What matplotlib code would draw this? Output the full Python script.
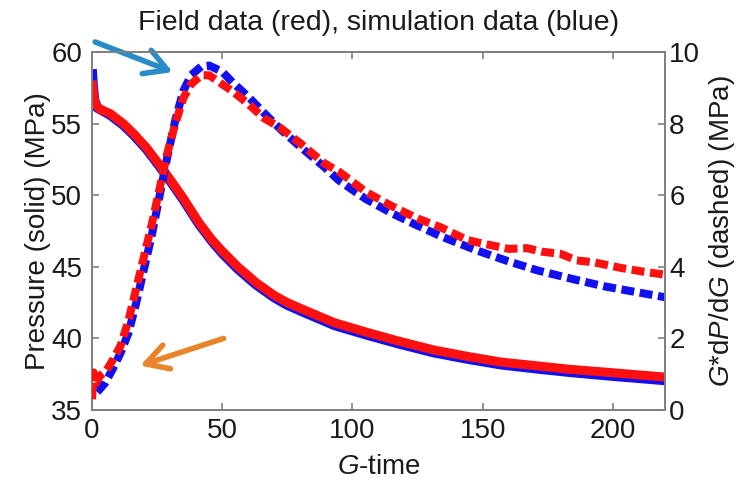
import matplotlib
matplotlib.use("Agg")
import matplotlib.pyplot as plt

plt.rcParams['font.family'] = ['Liberation Sans', 'DejaVu Sans']
plt.rcParams['mathtext.fontset'] = 'custom'
plt.rcParams['mathtext.rm'] = 'Liberation Sans'
plt.rcParams['mathtext.it'] = 'Liberation Sans:italic'

# pressure, field (red solid)
t_p_field = [0, 0.5, 1.2, 3, 7, 12, 16, 21, 26, 30, 35, 41, 46, 50, 56, 63, 70, 75, 80,
             93, 106, 118, 131, 144, 157, 170, 183, 200, 220]
p_field = [58.0, 57.2, 56.4, 56.0, 55.7, 55.0, 54.3, 53.3, 52.1, 51.1, 49.8, 48.1, 46.9,
           46.1, 45.0, 43.9, 43.0, 42.5, 42.1, 41.1, 40.4, 39.8, 39.2, 38.75, 38.35,
           38.1, 37.85, 37.6, 37.3]
# pressure, simulation (blue solid)
t_p_sim = [0, 0.4, 1.0, 2, 7, 12, 16, 21, 26, 30, 35, 41, 46, 50, 56, 63, 70, 75, 80,
           93, 106, 118, 131, 144, 157, 170, 183, 200, 220]
p_sim = [58.8, 57.6, 56.6, 56.1, 55.6, 54.9, 54.2, 53.2, 52.0, 51.0, 49.7, 48.0, 46.8,
         45.95, 44.85, 43.75, 42.85, 42.33, 41.93, 40.92, 40.22, 39.62, 39.02, 38.57,
         38.17, 37.9, 37.65, 37.37, 37.07]

# derivative G*dP/dG, field (red dashed)
t_d_field = [0, 0.6, 1.5, 3, 5.5, 8, 11, 14, 17, 20, 23, 26, 29, 32, 35, 38, 42, 45, 48,
             54, 60, 66, 72, 80, 89, 95, 105, 115, 125, 134, 144, 150, 160, 167, 173,
             180, 186, 193, 203, 212, 220]
d_field = [0.3, 1.05, 0.75, 0.95, 1.1, 1.4, 1.8, 2.5, 3.4, 4.3, 5.2, 6.2, 7.2, 8.0, 8.7,
           9.1, 9.35, 9.35, 9.2, 8.9, 8.55, 8.15, 7.9, 7.45, 6.9, 6.65, 6.1, 5.7, 5.35,
           5.1, 4.75, 4.65, 4.5, 4.52, 4.42, 4.36, 4.18, 4.12, 3.97, 3.86, 3.78]
# derivative G*dP/dG, simulation (blue dashed)
t_d_sim = [2, 5, 8, 11, 14, 17, 20, 23, 26, 29, 32, 35, 38, 42, 45, 50, 54, 60, 66, 73,
           80, 89, 95, 105, 115, 125, 134, 148, 160, 171, 185, 197, 210, 220]
d_sim = [0.5, 0.75, 1.15, 1.6, 2.15, 3.0, 3.95, 4.9, 6.0, 7.1, 8.1, 8.9, 9.35, 9.6,
         9.62, 9.45, 9.15, 8.75, 8.3, 7.8, 7.35, 6.8, 6.4, 5.9, 5.5, 5.15, 4.85, 4.45,
         4.15, 3.9, 3.65, 3.45, 3.28, 3.15]

RED = '#ff1010'
BLUE = '#1010f0'
GRAY = '#808080'
TXT = '#1a1a1a'
FS = 20

fig = plt.figure(figsize=(7.39, 4.84), dpi=100)
ax = fig.add_axes([92 / 739, 74 / 484, 573 / 739, 358 / 484])
ax2 = ax.twinx()

ax.plot(t_p_sim, p_sim, color=BLUE, lw=7.0, solid_capstyle='butt', zorder=2)
ax.plot(t_p_field, p_field, color=RED, lw=6.5, solid_capstyle='butt', zorder=3)

ax2.plot(t_d_sim, d_sim, color=BLUE, lw=5.8, dashes=(1.6, 0.7), zorder=2)
ax2.plot(t_d_field, d_field, color=RED, lw=5.8, dashes=(1.6, 0.7), zorder=3)

ax.set_xlim(0, 220)
ax.set_ylim(35, 60)
ax2.set_ylim(0, 10)
ax.set_xticks([0, 50, 100, 150, 200])
ax.set_yticks([35, 40, 45, 50, 55, 60])
ax2.set_yticks([0, 2, 4, 6, 8, 10])

for a in (ax, ax2):
    for s in a.spines.values():
        s.set_color(GRAY)
        s.set_linewidth(1.3)
ax.tick_params(axis='x', direction='in', top=True, length=5, width=1.2, color=GRAY,
               labelsize=FS, labelcolor=TXT, pad=6)
ax.tick_params(axis='y', direction='in', length=5, width=1.2, color=GRAY,
               labelsize=FS, labelcolor=TXT, pad=7)
ax2.tick_params(axis='y', direction='in', length=5, width=1.2, color=GRAY,
                labelsize=FS, labelcolor=TXT, pad=3)

ax.set_xlabel('$G$-time', fontsize=FS, color=TXT, labelpad=7)
ax.set_ylabel('Pressure (solid) (MPa)', fontsize=FS, color=TXT, labelpad=0)
ax2.set_ylabel('$G$*d$P$/d$G$ (dashed) (MPa)', fontsize=FS, color=TXT, labelpad=5)
ax.set_title('Field data (red), simulation data (blue)', fontsize=20.5, color=TXT, pad=16)

# pointer arrows
ax.annotate('', xy=(31, 58.6), xytext=(1.2, 60.7), annotation_clip=False,
            arrowprops=dict(arrowstyle='->,head_length=1.6,head_width=0.9',
                            color='#2a8cc6', lw=4.0, shrinkA=0, shrinkB=0))
ax.annotate('', xy=(18.5, 38.1), xytext=(50.5, 40.0), annotation_clip=False,
            arrowprops=dict(arrowstyle='->,head_length=1.6,head_width=0.9',
                            color='#e8842c', lw=4.0, shrinkA=0, shrinkB=0))

fig.savefig('out.png', dpi=100)
